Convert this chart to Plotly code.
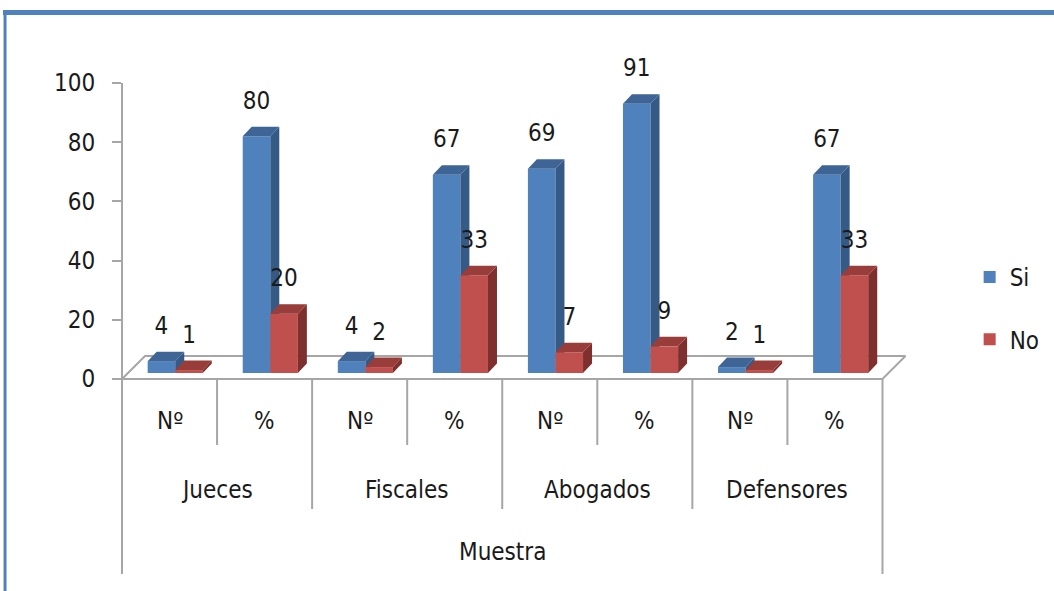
import plotly.graph_objects as go

# ---------------- data ----------------
categories = ["Nº", "%", "Nº", "%", "Nº", "%", "Nº", "%"]
groups = ["Jueces", "Fiscales", "Abogados", "Defensores"]
axis_title = "Muestra"
si_values = [4, 80, 4, 67, 69, 91, 2, 67]
no_values = [1, 20, 2, 33, 7, 9, 1, 33]
y_ticks = [0, 20, 40, 60, 80, 100]

# ---------------- layout geometry ----------------
W, H = 1054, 591
L, T, B = 122, 30, 383          # plot area pixel edges
XMIN, XMAX = -0.5, 7.8
PXU = 95.1                       # px per category unit
PW = (XMAX - XMIN) * PXU
PH = B - T
YS = 2.96                        # px per value unit
Y0PIX = 379                      # pixel of value 0 on the axis
Y_LO = -(B - Y0PIX) / YS
Y_HI = (Y0PIX - T) / YS
BAR_SHIFT = 6 / YS               # bars sit slightly back in depth

FONT = "Liberation Sans Narrow, DejaVu Sans Condensed, Arial Narrow, sans-serif"
TXT = "#1a1a1a"
GRID = "#a6a6a6"
BLUE, BLUE_TOP, BLUE_SIDE = "#4F81BD", "#3E6596", "#355A86"
RED, RED_TOP, RED_SIDE = "#C0504D", "#983D3A", "#7E302E"

def xp_pix(px):
    return (px - L) / PW

def xp_data(x):
    return (x - XMIN) / (XMAX - XMIN)

def yp_pix(py):
    return (B - py) / PH

def ypix_val(v):
    return Y0PIX - v * YS

fig = go.Figure()

# ---------- floor (main axis) ----------
fdx, fdy = 23 / PXU, 23 / YS
n = len(categories)
fx = [XMIN, n - 0.5, n - 0.5 + fdx, XMIN + fdx, XMIN]
fy = [0, 0, fdy, fdy, 0]
fig.add_trace(go.Scatter(x=fx, y=fy, mode="lines", fill="toself",
                         fillcolor="white", line=dict(color=GRID, width=2),
                         hoverinfo="skip", showlegend=False,
                         xaxis="x", yaxis="y"))

# ---------- bars with 3D faces ----------
W_BAR = 0.29
DDX, DDY = 9 / PXU, 9.5 / YS
idx = list(range(n))

def faces(values, offset):
    top_x, top_y, side_x, side_y = [], [], [], []
    for i, v in zip(idx, values):
        xl = i + offset
        xr = xl + W_BAR
        top_x += [xl, xl + DDX, xr + DDX, xr, xl, None]
        top_y += [v, v + DDY, v + DDY, v, v, None]
        side_x += [xr, xr + DDX, xr + DDX, xr, xr, None]
        side_y += [0, DDY, v + DDY, v, 0, None]
    return top_x, top_y, side_x, side_y

series = [
    ("Si", si_values, -0.23, BLUE, BLUE_TOP, BLUE_SIDE, "y2"),
    ("No", no_values, 0.06, RED, RED_TOP, RED_SIDE, "y3"),
]
for name, vals, off, c, ctop, cside, yax in series:
    fig.add_trace(go.Bar(x=idx, y=vals, offset=off, width=W_BAR, name=name,
                         marker=dict(color=c, line=dict(width=0)),
                         legendgroup=name, xaxis="x", yaxis=yax))
    tx, ty, sx, sy = faces(vals, off)
    fig.add_trace(go.Scatter(x=sx, y=sy, mode="lines", fill="toself",
                             fillcolor=cside, line=dict(width=0, color=cside),
                             hoverinfo="skip", showlegend=False,
                             xaxis="x", yaxis=yax))
    fig.add_trace(go.Scatter(x=tx, y=ty, mode="lines", fill="toself",
                             fillcolor=ctop, line=dict(width=0, color=ctop),
                             hoverinfo="skip", showlegend=False,
                             xaxis="x", yaxis=yax))

# value labels
LABEL_UP = 11.3
for vals, off in [(si_values, -0.23), (no_values, 0.06)]:
    fig.add_trace(go.Scatter(
        x=[i + off + W_BAR / 2 for i in idx],
        y=[v + LABEL_UP for v in vals],
        text=[str(v) for v in vals], mode="text",
        textfont=dict(family=FONT, size=24, color=TXT),
        hoverinfo="skip", showlegend=False, cliponaxis=False,
        xaxis="x", yaxis="y3"))

shapes = []
# y axis line
shapes.append(dict(type="line", xref="paper", yref="paper",
                   x0=0, x1=0, y0=yp_pix(ypix_val(0)), y1=yp_pix(ypix_val(100)),
                   line=dict(color=GRID, width=2)))
# category separators
row1_bottom, row2_bottom, row3_bottom = 445, 509, 574
for i in range(n + 1):
    x = i - 0.5
    if i == 0 or i == n:
        yb = row3_bottom
    elif i % 2 == 0:
        yb = row2_bottom
    else:
        yb = row1_bottom
    shapes.append(dict(type="line", xref="paper", yref="paper",
                       x0=xp_data(x), x1=xp_data(x),
                       y0=yp_pix(Y0PIX), y1=yp_pix(yb),
                       line=dict(color=GRID, width=2)))
# outer frame (blue)
shapes.append(dict(type="line", xref="paper", yref="paper",
                   x0=xp_pix(3), x1=xp_pix(1070), y0=yp_pix(12.5), y1=yp_pix(12.5),
                   line=dict(color="#4F81BD", width=5)))
shapes.append(dict(type="line", xref="paper", yref="paper",
                   x0=xp_pix(5), x1=xp_pix(5), y0=yp_pix(10), y1=yp_pix(610),
                   line=dict(color="#4F81BD", width=3)))

def ann(x, py, text):
    return dict(x=xp_data(x), y=yp_pix(py), xref="paper", yref="paper",
                xanchor="center", yanchor="middle", text=text, showarrow=False,
                font=dict(family=FONT, size=24, color=TXT))

annotations = []
for i, c in enumerate(categories):
    annotations.append(ann(i, 421, c))
for g, name in enumerate(groups):
    annotations.append(ann(2 * g + 0.5, 490, name))
annotations.append(ann((n - 1) / 2, 552, axis_title))

fig.update_layout(
    width=W, height=H,
    margin=dict(l=L, r=W - L - PW, t=T, b=H - B, autoexpand=False),
    paper_bgcolor="white", plot_bgcolor="rgba(0,0,0,0)",
    barmode="overlay",
    font=dict(family=FONT, size=24, color=TXT),
    xaxis=dict(range=[XMIN, XMAX], visible=False, fixedrange=True),
    yaxis=dict(range=[Y_LO, Y_HI], tickvals=y_ticks, showgrid=False,
               zeroline=False, showline=False, ticks="outside", ticklen=9,
               tickwidth=2, tickcolor=GRID, ticklabelstandoff=12,
               tickfont=dict(family=FONT, size=24, color=TXT)),
    yaxis2=dict(range=[Y_LO - BAR_SHIFT, Y_HI - BAR_SHIFT], overlaying="y",
                visible=False),
    yaxis3=dict(range=[Y_LO - BAR_SHIFT, Y_HI - BAR_SHIFT], overlaying="y",
                visible=False),
    legend=dict(x=xp_pix(970), y=yp_pix(255), xanchor="left", yanchor="top",
                traceorder="grouped", tracegroupgap=28,
                font=dict(family=FONT, size=24, color=TXT),
                bgcolor="rgba(0,0,0,0)", itemwidth=30),
    shapes=shapes, annotations=annotations,
)

fig.write_html("out.html")
